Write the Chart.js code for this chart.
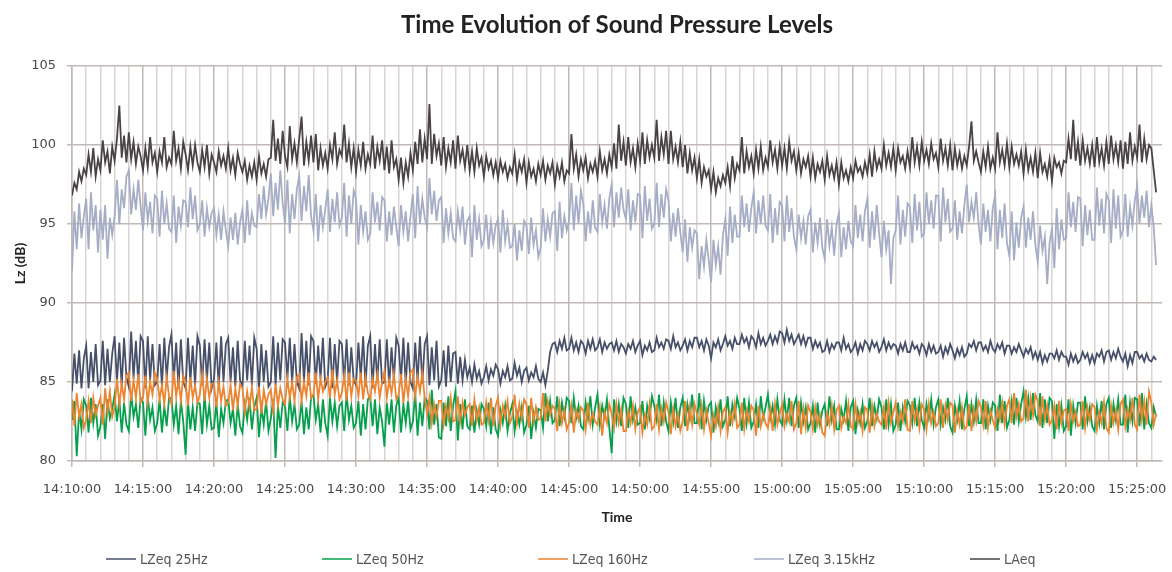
<!DOCTYPE html>
<html>
<head>
<meta charset="utf-8">
<script src="https://cdn.jsdelivr.net/npm/chart.js@4/dist/chart.umd.min.js"></script>
<style>
    html, body {
        margin: 0;
        padding: 0;
        background: #fff;
    }
    #wrap {
        position: relative;
        width: 1172px;
        height: 572px;
    }
    #legend {
        position: absolute;
        left: 106px;
        top: 551px;
        display: flex;
        font-family: 'Liberation Sans Narrow', 'DejaVu Sans Condensed', 'Liberation Sans', sans-serif;
        font-stretch: condensed;
        font-size: 14px;
        color: #555;
    }
    #legend .item {
        width: 216px;
        display: flex;
        align-items: center;
    }
    #legend .swatch {
        width: 30px;
        height: 2px;
        margin-right: 4px;
        opacity: 0.75;
    }
</style>
</head>
<body>
<div id="wrap">
    <canvas id="chart" width="1172" height="572"></canvas>
    <div id="legend"></div>
</div>
<script>
// Seconds from 14:10:00 between two readings
const sampleStep = 10;

// Labels every 5 minutes
const timeLabels = ['14:10:00', '14:15:00', '14:20:00', '14:25:00', '14:30:00', '14:35:00', '14:40:00', '14:45:00',
    '14:50:00', '14:55:00', '15:00:00', '15:05:00', '15:10:00', '15:15:00', '15:20:00', '15:25:00'];

const seriesNames = ['LZeq 25Hz', 'LZeq 50Hz', 'LZeq 160Hz', 'LZeq 3.15kHz', 'LAeq'];
const seriesColors = ['#46506a', '#05a04c', '#ec8430', '#a6adc6', '#4a4345'];

// Readings, one row per minute (6 per minute)
const lz25 = [
    84.4, 86.8, 84.9, 87.0, 84.6, 86.5,
    87.3, 84.6, 86.9, 85.0, 87.4, 84.8,
    85.1, 87.6, 84.8, 87.1, 85.0, 86.8,
    87.9, 85.0, 87.5, 84.7, 87.8, 85.3,
    84.7, 88.2, 85.2, 87.6, 84.9, 87.9,
    87.6, 84.6, 87.9, 85.1, 87.4, 84.8,
    85.0, 87.4, 84.7, 87.8, 85.2, 87.2,
    88.0, 85.1, 87.5, 84.6, 87.7, 85.0,
    84.6, 87.8, 85.0, 87.3, 84.8, 87.9,
    87.3, 84.8, 87.7, 85.1, 87.5, 84.6,
    85.2, 87.5, 84.6, 87.9, 85.0, 87.4,
    87.8, 85.0, 87.2, 84.7, 87.6, 85.1,
    84.7, 87.6, 85.1, 87.3, 84.8, 87.8,
    87.1, 84.5, 87.4, 85.0, 87.0, 84.7,
    85.0, 87.9, 84.8, 87.5, 85.1, 87.7,
    87.5, 85.2, 87.8, 84.9, 87.4, 85.0,
    84.6, 88.1, 85.0, 87.6, 84.8, 87.9,
    87.6, 84.9, 87.3, 85.2, 87.8, 84.7,
    85.1, 87.8, 84.6, 87.4, 85.0, 87.6,
    87.4, 85.0, 87.7, 84.8, 87.2, 85.1,
    84.8, 87.5, 85.2, 87.9, 84.7, 87.3,
    87.9, 84.6, 87.4, 85.0, 87.7, 84.9,
    85.0, 87.7, 84.7, 87.2, 85.1, 87.8,
    87.3, 85.1, 87.8, 84.8, 87.5, 85.0,
    84.6, 87.5, 85.0, 87.9, 84.9, 87.4,
    87.9, 84.8, 87.2, 85.1, 87.6, 84.7,
    85.1, 87.0, 84.7, 87.3, 85.0, 86.8,
    86.9, 84.9, 86.6, 85.1, 86.4, 85.3,
    85.9, 85.0, 86.1, 85.2, 85.7, 84.9,
    85.3, 86.0, 85.1, 85.8, 85.4, 86.1,
    85.8, 84.9, 85.7, 85.3, 86.0, 85.1,
    85.2, 86.2, 85.4, 85.9, 85.0, 85.7,
    85.9, 85.1, 85.6, 85.3, 86.0, 85.2,
    85.0, 85.6, 84.8, 85.7, 86.9, 87.4,
    87.5, 86.9, 87.6, 87.1, 87.8, 87.0,
    87.1, 87.8, 87.0, 87.5, 86.9, 87.6,
    87.4, 86.8, 87.6, 87.1, 87.7, 87.0,
    87.2, 87.7, 86.9, 87.5, 87.1, 87.4,
    87.5, 87.0, 87.6, 86.9, 87.4, 87.2,
    86.8, 87.4, 87.1, 87.6, 86.9, 87.3,
    87.6, 86.7, 87.3, 87.0, 87.5, 86.9,
    87.0, 87.8, 87.2, 87.5, 87.1, 87.7,
    87.6, 87.1, 87.9, 87.2, 87.5, 87.0,
    87.3, 87.7, 87.0, 87.6, 87.2, 87.8,
    87.8, 87.2, 87.6, 87.0, 87.7, 87.3,
    86.5, 87.5, 87.2, 87.7, 87.0, 87.4,
    87.9, 87.3, 87.6, 87.1, 87.8, 87.4,
    87.4, 88.0, 87.5, 87.8, 87.2, 87.9,
    87.7, 87.2, 88.1, 87.4, 87.8, 87.3,
    87.6, 88.0, 87.4, 87.9, 87.5, 88.2,
    88.1, 87.5, 88.3, 87.6, 88.0, 87.4,
    87.7, 88.0, 87.4, 87.9, 87.3, 87.8,
    87.8, 87.1, 87.6, 87.2, 87.5, 86.9,
    87.0, 87.6, 86.9, 87.4, 87.1, 87.5,
    87.5, 87.0, 87.8, 87.1, 87.4, 86.9,
    87.1, 87.5, 86.8, 87.4, 87.0, 87.6,
    87.4, 87.0, 87.6, 87.2, 87.5, 86.9,
    87.2, 87.7, 87.0, 87.5, 87.1, 87.4,
    87.3, 86.8, 87.4, 87.0, 87.5, 86.9,
    86.9, 87.5, 87.1, 87.3, 86.8, 87.4,
    87.2, 86.7, 87.4, 86.9, 87.3, 86.8,
    86.9, 87.3, 86.6, 87.2, 86.8, 87.4,
    87.0, 86.5, 87.1, 86.7, 87.2, 86.6,
    86.8, 87.4, 87.2, 87.6, 87.0, 87.5,
    87.5, 87.0, 87.3, 86.9, 87.6, 87.1,
    86.9, 87.4, 87.1, 87.5, 86.8, 87.3,
    87.3, 86.8, 87.2, 86.9, 87.4, 87.0,
    86.6, 87.1, 86.8, 87.2, 86.5, 86.9,
    86.4, 86.9, 86.2, 86.7, 86.3, 86.8,
    86.8, 86.5, 87.0, 86.4, 86.9, 86.6,
    86.6, 86.1, 86.8, 86.3, 86.7, 86.2,
    86.4, 86.9, 86.5, 86.8, 86.2, 86.7,
    86.2, 86.8, 86.6, 87.0, 86.3, 86.9,
    87.0, 86.4, 86.9, 86.5, 87.1, 86.6,
    86.3, 86.8, 86.0, 86.7, 86.2, 86.9,
    86.9, 86.5, 86.7, 86.3, 86.8, 86.4,
    86.3, 86.6, 86.4
];

const lz50 = [
    82.6, 83.8, 80.3, 83.2, 82.0, 83.9,
    83.5, 81.8, 84.0, 82.4, 83.6, 81.6,
    82.2, 83.6, 81.4, 83.9, 82.7, 83.3,
    84.2, 82.5, 83.9, 81.8, 83.7, 82.3,
    81.9, 84.3, 82.8, 83.6, 82.1, 84.0,
    83.7, 81.6, 84.1, 82.6, 83.4, 81.9,
    82.4, 83.9, 81.8, 83.5, 82.2, 84.0,
    84.0, 82.3, 83.5, 81.7, 83.8, 82.5,
    80.4, 83.8, 82.0, 83.4, 81.9, 83.7,
    83.6, 81.7, 84.2, 82.3, 83.5, 82.0,
    82.1, 83.7, 81.5, 83.3, 82.4, 83.8,
    83.9, 82.4, 83.3, 81.6, 83.6, 82.2,
    81.8, 83.6, 82.6, 84.0, 82.0, 83.4,
    84.0, 81.5, 83.4, 82.3, 83.8, 81.9,
    82.7, 83.9, 80.2, 83.5, 82.1, 83.7,
    83.5, 81.9, 84.1, 82.5, 83.6, 82.0,
    82.3, 83.8, 81.7, 83.4, 82.0, 84.0,
    84.2, 82.6, 83.6, 81.8, 83.9, 82.4,
    81.6, 84.0, 82.5, 83.7, 82.2, 83.5,
    83.7, 81.9, 84.3, 82.6, 83.5, 82.1,
    82.4, 83.8, 81.6, 83.6, 82.0, 83.9,
    84.1, 82.2, 83.9, 81.7, 83.4, 82.5,
    80.9, 83.7, 82.3, 83.9, 81.8, 83.5,
    84.0, 81.8, 83.6, 82.4, 83.8, 82.0,
    82.5, 84.3, 81.6, 83.7, 82.2, 84.0,
    83.8, 82.0, 84.5, 82.3, 83.6, 81.5,
    81.4, 83.7, 82.2, 84.1, 81.9, 83.5,
    84.4, 81.3, 83.6, 82.0, 83.9, 82.2,
    82.0, 83.5, 81.8, 83.2, 82.3, 83.6,
    83.3, 82.2, 83.7, 81.7, 83.4, 82.0,
    81.6, 83.2, 82.4, 83.5, 81.9, 83.0,
    83.6, 81.9, 83.1, 82.3, 83.4, 81.8,
    82.3, 83.5, 81.4, 83.0, 82.1, 83.3,
    83.2, 82.1, 84.3, 82.5, 83.8, 82.4,
    82.6, 84.1, 82.2, 83.7, 82.8, 84.0,
    83.8, 82.4, 84.0, 82.7, 83.5, 82.2,
    82.0, 83.7, 82.7, 84.1, 82.3, 83.4,
    84.2, 82.3, 83.5, 82.8, 83.9, 82.1,
    80.5, 83.9, 82.5, 83.6, 82.2, 84.0,
    83.6, 82.1, 84.1, 82.6, 83.4, 82.3,
    82.4, 83.8, 82.0, 83.5, 82.7, 84.1,
    83.5, 82.6, 84.2, 82.2, 83.7, 82.5,
    81.9, 83.7, 82.5, 84.0, 82.1, 83.4,
    84.0, 82.2, 83.6, 82.7, 84.2, 82.4,
    82.4, 84.3, 82.0, 83.8, 82.6, 83.5,
    83.7, 81.8, 83.4, 82.5, 83.9, 82.2,
    82.6, 84.1, 82.2, 83.6, 82.8, 84.0,
    83.3, 81.9, 84.0, 82.4, 83.7, 82.1,
    82.5, 83.6, 82.1, 84.1, 82.7, 83.4,
    84.2, 82.7, 83.5, 82.3, 83.9, 82.6,
    82.3, 83.9, 82.6, 84.0, 82.2, 83.5,
    84.0, 82.1, 83.7, 82.5, 83.4, 82.0,
    82.4, 83.5, 81.8, 83.7, 82.3, 83.2,
    83.6, 82.2, 84.1, 82.6, 83.5, 82.0,
    82.0, 83.3, 82.6, 83.8, 81.9, 83.4,
    83.8, 81.7, 83.2, 82.4, 83.6, 82.1,
    82.5, 84.0, 82.2, 83.5, 82.7, 83.9,
    83.4, 82.0, 83.9, 82.3, 83.6, 81.9,
    82.3, 83.7, 81.9, 83.4, 82.5, 83.8,
    83.5, 82.4, 84.0, 82.2, 83.7, 82.6,
    82.1, 83.6, 82.7, 83.9, 82.3, 83.4,
    83.9, 82.3, 83.4, 82.6, 84.0, 82.2,
    81.8, 83.5, 82.6, 83.8, 82.0, 83.3,
    84.1, 82.2, 83.6, 82.5, 83.9, 82.4,
    82.4, 83.9, 82.0, 83.5, 82.6, 83.7,
    83.5, 81.9, 84.2, 82.4, 83.8, 82.1,
    82.6, 83.8, 82.3, 84.0, 82.5, 83.6,
    84.4, 82.8, 84.0, 82.6, 84.3, 82.9,
    82.5, 84.3, 82.1, 83.9, 82.4, 84.0,
    83.8, 81.4, 83.6, 82.2, 83.5, 81.9,
    82.2, 83.9, 81.6, 83.5, 82.4, 83.7,
    83.7, 82.0, 84.1, 82.5, 83.4, 82.2,
    81.9, 83.5, 82.4, 83.8, 82.0, 83.6,
    84.0, 82.1, 83.6, 82.6, 83.9, 82.3,
    82.3, 84.2, 81.8, 83.7, 82.5, 84.0,
    83.9, 82.2, 84.3, 82.0, 83.6, 82.4,
    82.1, 83.4, 82.8
];

const lz160 = [
    83.9, 82.2, 84.3, 82.8, 83.6, 82.1,
    82.6, 83.8, 82.4, 84.0, 82.9, 83.5,
    84.0, 82.3, 84.6, 83.1, 84.4, 82.8,
    83.4, 85.2, 83.6, 84.9, 83.9, 85.4,
    85.6, 83.8, 85.1, 84.0, 85.5, 83.7,
    84.0, 85.4, 83.7, 85.0, 84.2, 85.6,
    85.2, 83.9, 84.8, 83.6, 85.3, 84.1,
    83.6, 85.7, 84.1, 85.1, 83.8, 85.4,
    85.0, 83.5, 85.3, 84.0, 84.8, 83.7,
    84.2, 85.5, 83.8, 85.2, 84.0, 84.9,
    84.9, 83.4, 85.0, 83.8, 84.7, 83.5,
    83.7, 84.8, 83.2, 84.6, 83.5, 84.9,
    84.6, 83.1, 84.4, 83.4, 84.7, 83.2,
    83.3, 84.7, 83.0, 84.5, 83.6, 84.2,
    84.5, 83.2, 84.9, 83.5, 84.6, 83.9,
    83.6, 85.2, 84.0, 85.0, 83.8, 85.3,
    85.5, 83.8, 85.0, 84.1, 85.6, 84.0,
    84.2, 85.6, 83.9, 85.2, 84.4, 85.0,
    85.3, 84.0, 85.8, 84.2, 85.1, 83.9,
    84.3, 85.4, 83.8, 85.6, 84.1, 85.2,
    85.1, 84.1, 85.6, 83.9, 85.3, 84.3,
    83.9, 85.2, 84.4, 85.5, 84.0, 85.0,
    85.7, 84.0, 85.1, 84.3, 85.5, 83.9,
    84.2, 85.5, 83.7, 85.2, 84.1, 85.6,
    85.8, 84.1, 85.3, 84.4, 85.6, 84.0,
    83.0, 84.0, 82.4, 83.6, 82.8, 83.8,
    83.8, 82.3, 83.5, 82.7, 84.0, 82.5,
    82.6, 84.1, 82.5, 83.7, 82.9, 83.4,
    83.6, 82.2, 83.9, 82.6, 83.4, 82.3,
    82.4, 83.7, 82.6, 84.0, 82.2, 83.5,
    84.0, 82.3, 83.5, 82.8, 83.8, 82.4,
    82.8, 84.2, 82.4, 83.6, 82.7, 83.9,
    83.6, 82.1, 84.0, 82.5, 83.4, 82.6,
    82.7, 84.3, 82.5, 83.8, 82.9, 83.5,
    83.3, 81.9, 83.6, 82.4, 83.2, 82.0,
    82.4, 83.5, 81.8, 83.2, 82.6, 83.4,
    83.2, 82.0, 83.7, 82.3, 83.0, 82.5,
    82.3, 83.4, 81.6, 83.1, 82.4, 83.6,
    83.0, 82.1, 83.6, 82.4, 83.3, 81.9,
    81.9, 83.2, 82.4, 83.5, 82.0, 83.1,
    83.4, 81.8, 82.9, 82.3, 83.6, 82.0,
    82.2, 83.6, 82.0, 83.3, 82.5, 83.7,
    83.1, 81.7, 83.3, 82.2, 83.0, 81.9,
    82.5, 83.8, 81.9, 83.4, 82.3, 83.6,
    83.0, 82.3, 83.5, 82.0, 83.2, 82.4,
    81.6, 82.9, 82.2, 83.4, 81.9, 83.1,
    83.4, 81.8, 83.1, 82.4, 83.6, 82.1,
    82.3, 83.7, 82.0, 83.2, 82.5, 83.5,
    83.2, 81.6, 83.5, 82.2, 83.0, 82.4,
    82.1, 83.3, 81.9, 83.6, 82.3, 83.0,
    83.6, 82.2, 83.0, 82.5, 83.8, 82.0,
    82.4, 83.8, 81.7, 83.3, 82.1, 83.5,
    83.1, 82.0, 83.4, 82.3, 82.9, 81.8,
    81.6, 83.0, 82.3, 83.5, 82.0, 83.2,
    83.5, 82.1, 82.8, 82.4, 83.6, 82.2,
    82.0, 83.6, 82.4, 83.1, 81.9, 83.4,
    83.2, 81.8, 83.5, 82.2, 83.0, 82.5,
    82.3, 83.4, 82.0, 83.7, 82.4, 83.1,
    83.7, 82.2, 83.1, 82.5, 83.9, 82.0,
    81.9, 83.8, 82.5, 83.3, 82.1, 83.6,
    83.3, 82.0, 83.6, 82.4, 83.1, 82.2,
    82.4, 83.9, 82.1, 83.5, 82.6, 83.7,
    83.5, 81.8, 83.2, 82.3, 83.4, 82.0,
    82.2, 83.6, 81.9, 83.3, 82.5, 83.8,
    83.4, 82.3, 83.8, 82.1, 83.2, 82.6,
    82.1, 83.3, 82.6, 83.7, 82.3, 83.5,
    83.9, 82.4, 84.3, 82.8, 83.6, 82.5,
    82.7, 84.5, 82.5, 84.0, 82.9, 84.2,
    83.8, 82.2, 84.1, 82.6, 83.5, 82.3,
    82.6, 83.5, 82.0, 83.8, 82.4, 83.2,
    83.3, 81.9, 83.6, 82.5, 83.1, 82.2,
    82.3, 83.8, 82.1, 83.4, 82.6, 83.6,
    83.4, 82.0, 83.1, 82.4, 83.7, 82.1,
    81.8, 83.5, 82.4, 83.2, 82.0, 83.6,
    83.9, 82.2, 83.3, 82.6, 84.0, 82.3,
    82.0, 84.2, 82.6, 83.8, 82.3, 84.4,
    83.7, 82.3, 83.0
];

const lz3150 = [
    92.0, 95.8, 93.4, 96.3, 94.1, 95.5,
    96.6, 93.4, 97.0, 94.6, 96.2, 93.2,
    95.9, 94.0, 96.2, 92.8, 95.4, 94.3,
    95.5, 97.8, 95.0, 97.2, 96.0, 98.0,
    98.4, 95.6, 97.2, 95.9, 97.8, 96.1,
    94.6, 97.0, 95.2, 96.4, 94.4, 96.8,
    96.6, 94.2, 97.1, 95.0, 96.3, 94.7,
    94.5, 96.8, 93.8, 96.1, 94.9, 96.5,
    96.4, 94.8, 97.3, 95.3, 96.8, 94.6,
    95.0, 96.5, 94.2, 96.0, 94.8, 95.7,
    96.0, 94.3, 95.6, 94.0, 95.8, 94.6,
    93.6, 95.4, 94.0, 95.7, 93.7, 95.1,
    95.9, 93.8, 96.5, 94.3, 95.7, 94.9,
    94.8, 96.9, 95.3, 97.4, 95.6, 96.6,
    98.2, 95.5, 97.6, 95.9, 98.4, 96.3,
    95.0, 97.8, 94.4, 96.9, 95.3, 97.2,
    98.0, 95.2, 97.4, 95.8, 98.1, 95.5,
    94.6, 96.9, 93.9, 96.2, 94.8, 95.9,
    97.2, 94.5, 96.6, 95.1, 97.0, 94.9,
    95.4, 97.6, 94.2, 96.8, 95.0, 97.1,
    96.6, 93.7, 96.2, 94.5, 95.8, 94.0,
    94.4, 97.0, 95.1, 96.4, 94.6, 96.7,
    96.5, 93.9, 95.8, 94.3, 96.1, 94.8,
    93.6, 96.2, 94.5, 95.8, 93.9, 95.5,
    96.9, 94.1, 97.4, 95.0, 96.6, 95.4,
    94.8, 97.9, 95.6, 97.1, 95.2, 96.5,
    96.7, 93.8, 96.0, 94.4, 95.7, 94.1,
    93.9, 95.8, 94.6, 96.1, 93.7, 95.2,
    95.5, 92.9, 96.2, 94.0, 95.3, 93.6,
    94.0, 95.6, 93.4, 95.1, 93.8, 94.9,
    95.3, 93.2, 95.9, 93.9, 95.0, 93.5,
    93.6, 95.0, 92.7, 94.6, 93.3, 95.2,
    94.9, 93.1, 95.4, 93.7, 94.6, 92.9,
    93.5, 96.0, 93.9, 95.3, 94.2, 95.7,
    95.8, 93.3, 96.4, 94.1, 95.5, 94.6,
    95.2, 97.6, 94.6, 96.8, 95.0, 97.1,
    96.3, 93.9, 95.8, 94.4, 96.5, 94.8,
    94.5, 96.9, 95.1, 96.2, 94.7, 96.6,
    97.5, 94.8, 97.0, 95.4, 97.3, 95.9,
    95.3, 97.2, 94.6, 96.5, 95.1, 96.9,
    96.8, 94.1, 97.4, 95.2, 96.6, 94.7,
    95.0, 97.6, 94.8, 96.9, 95.4, 97.2,
    96.5, 93.9, 95.7, 94.2, 96.0, 94.5,
    93.2, 95.3, 92.6, 94.8, 93.5, 94.6,
    94.4, 91.5, 93.6, 92.3, 94.0, 92.7,
    91.3, 94.0, 92.4, 93.6, 91.8, 94.3,
    95.3, 93.0, 96.1, 93.8, 95.6, 94.2,
    94.2, 96.8, 94.8, 96.3, 94.5, 96.0,
    97.0, 94.4, 96.5, 95.0, 96.8, 94.9,
    94.6, 96.9, 93.8, 96.0, 94.3, 96.4,
    96.2, 93.9, 96.8, 94.5, 96.0, 94.2,
    93.4, 95.6, 94.1, 95.2, 93.7, 95.5,
    95.9, 93.2, 95.1, 93.8, 95.4, 93.5,
    92.8, 95.3, 93.6, 94.8, 93.0, 95.0,
    95.7, 92.9, 94.8, 93.4, 95.2, 93.9,
    93.6, 96.2, 94.1, 95.6, 93.9, 95.8,
    96.6, 93.5, 95.8, 94.0, 96.2, 94.4,
    92.9, 95.2, 93.4, 94.6, 91.2, 94.1,
    94.6, 96.8, 93.7, 95.9, 94.2, 96.3,
    96.1, 93.8, 96.9, 94.6, 96.4, 94.2,
    94.4, 97.0, 95.0, 96.5, 94.7, 96.8,
    96.8, 93.9, 97.3, 95.1, 96.6, 94.5,
    94.7, 96.5, 94.0, 95.8, 94.4, 96.2,
    97.5, 95.1, 96.4, 95.4, 97.0, 95.0,
    93.7, 96.3, 94.5, 95.9, 93.9, 96.0,
    96.8, 93.4, 95.9, 94.1, 96.3, 93.8,
    93.0, 95.8, 92.7, 95.1, 93.5, 95.4,
    96.1, 93.5, 95.4, 94.0, 95.8, 93.7,
    92.6, 94.9, 93.3, 94.2, 91.2, 93.8,
    94.7, 92.2, 96.0, 93.4, 95.3, 94.0,
    94.1, 97.0, 94.8, 96.4, 94.5, 96.7,
    96.6, 93.6, 96.2, 94.3, 95.9, 94.0,
    94.0, 97.3, 94.9, 96.6, 94.4, 96.9,
    96.5, 93.8, 97.2, 94.7, 96.8, 94.2,
    94.6, 96.9, 94.2, 96.1, 94.9, 96.5,
    97.4, 95.0, 96.8, 95.4, 97.1, 94.8,
    96.2, 94.8, 92.4
];

const laeq = [
    96.8, 97.6, 97.2, 98.3, 97.7, 98.5,
    98.1, 99.4, 98.3, 99.8, 98.0, 99.1,
    98.4, 100.3, 98.9, 99.6, 98.2, 99.9,
    99.0, 100.4, 102.5, 99.2, 100.6, 98.9,
    100.8, 99.1, 100.2, 98.8, 99.9, 99.3,
    98.4, 99.8, 98.6, 100.5, 98.9, 99.5,
    98.3, 99.6, 98.9, 100.5, 98.6, 99.2,
    98.8, 100.9, 99.0, 99.8, 98.5, 100.2,
    99.4, 98.4, 99.9, 98.7, 100.0, 98.9,
    98.3, 99.7, 98.6, 100.0, 98.2, 99.4,
    98.9, 98.3, 99.6, 98.7, 99.3, 98.5,
    99.8, 98.4, 99.2, 98.1, 99.5, 98.8,
    98.3, 99.0, 97.8, 98.7, 98.0, 98.9,
    97.8, 99.3, 98.2, 98.8, 98.0, 99.1,
    99.2, 101.6, 99.0, 100.4, 98.8, 100.9,
    99.3, 98.6, 101.2, 99.1, 100.1, 98.9,
    100.4, 101.8, 98.7, 100.2, 99.0, 100.6,
    98.9, 100.7, 98.4, 99.8, 98.7, 99.5,
    98.5, 100.0, 99.1, 100.8, 98.8, 99.7,
    99.3, 101.3, 98.9, 100.1, 98.6, 99.8,
    98.3, 99.7, 98.7, 100.2, 98.5, 99.4,
    98.8, 100.6, 98.5, 99.9, 99.0, 100.3,
    98.4, 99.9, 98.2, 100.3, 98.6, 99.1,
    97.8, 99.2, 97.6, 98.9, 98.0, 99.5,
    98.4, 100.2, 98.8, 101.0, 98.9, 100.4,
    99.1, 102.6, 98.8, 100.7, 99.3, 100.1,
    98.7, 100.5, 98.6, 99.8, 98.9, 100.3,
    98.5, 100.6, 99.0, 99.7, 98.6, 100.0,
    98.4, 99.6, 98.3, 99.8, 98.7, 99.2,
    98.0, 99.3, 98.5, 99.0, 98.1, 98.9,
    97.9, 99.0, 98.3, 98.8, 97.9, 98.6,
    98.2, 99.4, 97.8, 98.9, 98.3, 99.1,
    97.6, 98.9, 98.0, 98.5, 97.7, 98.8,
    98.1, 99.0, 97.8, 98.7, 98.2, 98.9,
    97.5, 98.7, 98.0, 98.9, 97.7, 98.4,
    98.2, 100.7, 98.5, 99.4, 98.0, 99.1,
    98.4, 99.2, 97.9, 98.8, 98.3, 99.0,
    98.0, 99.6, 98.4, 99.1, 98.2, 99.4,
    98.6, 100.1, 98.5, 101.3, 99.0, 100.2,
    98.7, 100.5, 98.9, 99.8, 98.6, 100.1,
    99.0, 100.8, 98.8, 100.3, 99.2, 100.0,
    99.2, 101.6, 99.0, 100.5, 99.4, 100.9,
    98.8, 100.9, 99.1, 99.9, 98.9, 100.2,
    98.6, 100.0, 98.2, 99.5, 98.4, 99.2,
    97.9, 99.1, 97.6, 98.6, 98.0, 98.4,
    97.2, 98.3, 97.0, 97.9, 97.4, 98.1,
    97.6, 98.6, 97.4, 99.3, 97.9, 98.8,
    98.4, 100.5, 98.2, 99.6, 98.6, 99.3,
    98.2, 99.7, 98.5, 99.9, 98.4, 99.2,
    98.6, 100.3, 98.9, 99.7, 98.5, 99.9,
    98.7, 99.8, 98.5, 100.2, 99.0, 99.6,
    98.4, 99.5, 98.2, 99.1, 98.6, 99.3,
    98.0, 99.2, 97.9, 98.8, 98.3, 99.0,
    97.8, 99.3, 98.1, 98.7, 97.9, 98.9,
    97.5, 98.9, 97.9, 98.4, 97.7, 98.6,
    97.9, 99.0, 98.3, 98.6, 98.0, 98.9,
    98.2, 99.4, 98.0, 99.6, 98.5, 99.1,
    98.5, 100.0, 98.7, 99.5, 98.6, 99.8,
    98.4, 99.8, 98.9, 99.3, 98.5, 99.6,
    98.6, 100.5, 98.9, 99.9, 98.7, 100.2,
    99.0, 99.7, 98.8, 100.1, 99.1, 99.5,
    98.6, 100.4, 99.0, 99.8, 98.7, 100.0,
    98.4, 99.8, 98.7, 99.5, 98.5, 99.3,
    98.7, 99.9, 101.5, 99.0, 99.6, 98.9,
    98.3, 99.6, 98.6, 99.9, 98.5, 99.2,
    98.5, 100.8, 98.9, 99.7, 98.7, 100.1,
    98.6, 99.9, 98.8, 99.4, 98.7, 99.6,
    98.2, 99.7, 98.4, 99.2, 98.3, 99.5,
    97.9, 99.5, 98.3, 98.8, 98.0, 99.1,
    97.7, 99.2, 98.6, 98.9, 98.2, 99.0,
    98.9, 100.4, 99.1, 101.6, 99.0, 100.2,
    98.7, 100.3, 99.0, 99.8, 98.8, 100.0,
    98.6, 100.5, 98.9, 99.8, 98.7, 100.2,
    98.8, 100.6, 99.1, 100.0, 98.9, 100.3,
    98.5, 100.2, 98.8, 100.8, 99.0, 99.9,
    99.2, 101.3, 98.9, 100.4, 99.1, 100.0,
    99.8, 98.4, 97.0
];

const seriesValues = [lz25, lz50, lz160, lz3150, laeq];

// Excel draws later series over earlier ones
const drawOrder = [5, 4, 3, 2, 1];

const gridMajor = '#c2b9b7';
const gridMinor = '#dad4d3';
const tickFont = 'DejaVu Sans, sans-serif';

const datasets = seriesNames.map((name, index) => {
    return {
        label: name,
        data: seriesValues[index].map((value, i) => ({ x: i * sampleStep, y: value })),
        borderColor: seriesColors[index],
        backgroundColor: seriesColors[index],
        borderWidth: 1.8,
        pointRadius: 0,
        tension: 0,
        order: drawOrder[index]
    };
});

const isMajor = value => value % 300 === 0;

new Chart(document.getElementById('chart'), {
    type: 'line',
    data: { datasets },
    options: {
        responsive: false,
        animation: false,
        layout: {
            padding: { left: 0, right: 10, top: 0, bottom: 27 }
        },
        plugins: {
            legend: { display: false },
            tooltip: { enabled: false },
            title: {
                display: true,
                fullSize: false,
                text: 'Time Evolution of Sound Pressure Levels',
                color: '#222',
                font: { family: 'Lato, sans-serif', size: 24, weight: 'bold' },
                padding: { top: 11, bottom: 26.2 }
            }
        },
        scales: {
            x: {
                type: 'linear',
                min: 0,
                max: 4605,
                afterFit: scale => {
                    scale.height = 84;
                },
                border: { color: gridMajor, width: 1.5 },
                grid: {
                    color: c => (c.tick && isMajor(c.tick.value) ? gridMajor : gridMinor),
                    lineWidth: 1.5,
                    tickLength: 6,
                    tickColor: c => (c.tick && isMajor(c.tick.value) ? gridMajor : 'rgba(0,0,0,0)')
                },
                ticks: {
                    stepSize: 60,
                    autoSkip: false,
                    maxRotation: 0,
                    includeBounds: false,
                    padding: 15,
                    color: '#4a4a4a',
                    font: { family: tickFont, size: 13 },
                    callback: value => (isMajor(value) ? timeLabels[value / 300] : '')
                },
                title: {
                    display: true,
                    text: 'Time',
                    color: '#222',
                    font: { family: 'Lato, sans-serif', size: 14, weight: 'bold' },
                    padding: { top: 0, bottom: 19 }
                }
            },
            y: {
                min: 80,
                max: 105,
                afterFit: scale => {
                    scale.width = 72;
                },
                border: { color: gridMajor, width: 1.5 },
                grid: {
                    color: gridMajor,
                    lineWidth: 1.5,
                    tickLength: 5,
                    tickColor: gridMajor
                },
                ticks: {
                    stepSize: 5,
                    padding: 11,
                    color: '#4a4a4a',
                    font: { family: tickFont, size: 13 }
                },
                title: {
                    display: true,
                    text: 'Lz (dB)',
                    color: '#222',
                    font: { family: 'Lato, sans-serif', size: 14, weight: 'bold' },
                    padding: { top: 12, bottom: 0 }
                }
            }
        }
    }
});

// Legend, built from the same names and colours
const legend = document.getElementById('legend');
seriesNames.forEach((name, index) => {
    const item = document.createElement('div');
    item.className = 'item';
    item.innerHTML = `<span class="swatch" style="background:${seriesColors[index]}"></span><span>${name}</span>`;
    legend.appendChild(item);
});
</script>
</body>
</html>
